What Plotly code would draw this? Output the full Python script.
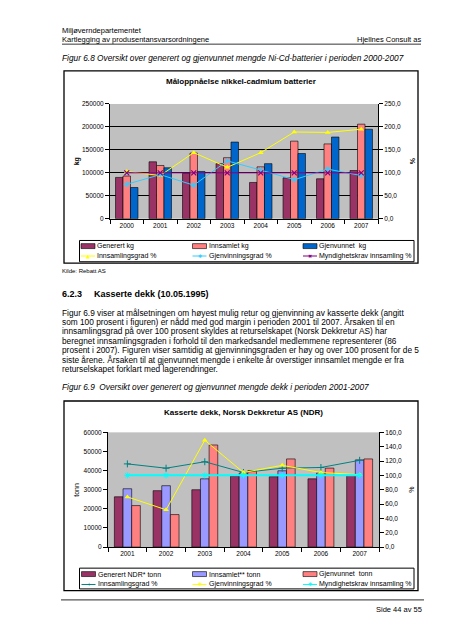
import plotly.graph_objects as go

W, H = 452, 640

# ---------------- data: Figure 6.8 (Ni-Cd batteries) ----------------
years_nicd = ["2000", "2001", "2002", "2003", "2004", "2005", "2006", "2007"]
nicd_generert = [90000, 124000, 99000, 120000, 79000, 89000, 87000, 105000]
nicd_innsamlet = [93000, 116000, 143000, 133000, 113000, 169000, 163000, 206000]
nicd_gjenvunnet = [68000, 111000, 103000, 167000, 120000, 142000, 178000, 195000]
nicd_innsamlingsgrad = [103, 94, 144, 112, 144, 189, 188, 195]
nicd_gjenvinningsgrad = [75, 96, 73, 126, 106, 85, 108, 94]
nicd_krav = [100, 100, 100, 100, 100, 100, 100, 100]

# ---------------- data: Figure 6.9 (tyres) ----------------
years_dekk = ["2001", "2002", "2003", "2004", "2005", "2006", "2007"]
dekk_generert = [26300, 29500, 30000, 37100, 36800, 35700, 37500]
dekk_innsamlet = [30500, 32100, 35700, 38700, 39900, 38800, 45600]
dekk_gjenvunnet = [21700, 17000, 53400, 40000, 46100, 41300, 46100]
dekk_innsamlingsgrad = [116, 110, 119, 104, 110, 111, 121]
dekk_gjenvinningsgrad = [70, 52, 149, 104, 114, 104, 101]
dekk_krav = [100, 100, 100, 100, 100, 100, 100]

# ---------------- colours ----------------
MAROON = "#993366"
SALMON = "#FF8080"
BLUE = "#0066CC"
LAVENDER = "#9999FF"
YELLOW = "#FFFF00"
LIGHTBLUE = "#33CCFF"
PURPLE = "#800080"
TEAL = "#008080"
CYAN = "#00FFFF"
FONT = "Liberation Sans"


def px_x(x):
    return x / W


def px_y(y):
    return 1 - y / H


fig = go.Figure()

bar_line = dict(color="black", width=0.6)

# chart 1 bars
fig.add_trace(go.Bar(x=years_nicd, y=nicd_generert, name="Generert kg",
                     marker=dict(color=MAROON, line=bar_line), xaxis="x", yaxis="y"))
fig.add_trace(go.Bar(x=years_nicd, y=nicd_innsamlet, name="Innsamlet kg",
                     marker=dict(color=SALMON, line=bar_line), xaxis="x", yaxis="y"))
fig.add_trace(go.Bar(x=years_nicd, y=nicd_gjenvunnet, name="Gjenvunnet  kg",
                     marker=dict(color=BLUE, line=bar_line), xaxis="x", yaxis="y"))
# chart 1 lines
fig.add_trace(go.Scatter(x=years_nicd, y=nicd_innsamlingsgrad, name="Innsamlingsgrad %",
                         mode="lines+markers", line=dict(color=YELLOW, width=1),
                         marker=dict(symbol="triangle-up", size=5, color=YELLOW),
                         xaxis="x", yaxis="y2"))
fig.add_trace(go.Scatter(x=years_nicd, y=nicd_gjenvinningsgrad, name="Gjenvinningsgrad %",
                         mode="lines+markers", line=dict(color=LIGHTBLUE, width=1),
                         marker=dict(symbol="asterisk-open", size=5,
                                     line=dict(color=LIGHTBLUE, width=1)),
                         xaxis="x", yaxis="y2"))
fig.add_trace(go.Scatter(x=years_nicd, y=nicd_krav, name="Myndighetskrav innsamling %",
                         mode="lines+markers", line=dict(color=PURPLE, width=1),
                         marker=dict(symbol="x-thin-open", size=5,
                                     line=dict(color="#C0206A", width=1.2)),
                         xaxis="x", yaxis="y2"))

# chart 2 bars
fig.add_trace(go.Bar(x=years_dekk, y=dekk_generert, name="Generert NDR* tonn",
                     marker=dict(color=MAROON, line=bar_line), xaxis="x2", yaxis="y3"))
fig.add_trace(go.Bar(x=years_dekk, y=dekk_innsamlet, name="Innsamlet** tonn",
                     marker=dict(color=LAVENDER, line=bar_line), xaxis="x2", yaxis="y3"))
fig.add_trace(go.Bar(x=years_dekk, y=dekk_gjenvunnet, name="Gjenvunnet  tonn",
                     marker=dict(color=SALMON, line=bar_line), xaxis="x2", yaxis="y3"))
# chart 2 lines
fig.add_trace(go.Scatter(x=years_dekk, y=dekk_innsamlingsgrad, name="Innsamlingsgrad %",
                         mode="lines+markers", line=dict(color=TEAL, width=1),
                         marker=dict(symbol="cross-thin-open", size=5,
                                     line=dict(color=TEAL, width=1)),
                         xaxis="x2", yaxis="y4"))
fig.add_trace(go.Scatter(x=years_dekk, y=dekk_gjenvinningsgrad, name="Gjenvinningsgrad %",
                         mode="lines+markers", line=dict(color=YELLOW, width=1),
                         marker=dict(symbol="triangle-up", size=5, color=YELLOW),
                         xaxis="x2", yaxis="y4"))
fig.add_trace(go.Scatter(x=years_dekk, y=dekk_krav, name="Myndighetskrav innsamling %",
                         mode="lines+markers", line=dict(color=CYAN, width=2),
                         marker=dict(symbol="asterisk-open", size=5,
                                     line=dict(color=CYAN, width=1)),
                         xaxis="x2", yaxis="y4"))

tickfont = dict(family=FONT, size=6.5, color="black")
common_x = dict(type="category", showline=True, linecolor="black", linewidth=1,
                ticks="outside", tickson="boundaries", ticklen=4, tickcolor="black",
                tickfont=tickfont, showgrid=False, zeroline=False, fixedrange=True)
common_y = dict(showline=True, linecolor="black", linewidth=1, ticks="outside",
                ticklen=4, tickcolor="black", tickfont=tickfont, zeroline=False,
                fixedrange=True)

fig.update_layout(
    width=W, height=H, margin=dict(l=0, r=0, t=0, b=0),
    paper_bgcolor="white", plot_bgcolor="#C0C0C0",
    showlegend=False, barmode="group", bargap=0.33, bargroupgap=0,
    separators=", ",
    xaxis=dict(common_x, domain=[px_x(102), px_x(370)], anchor="y"),
    yaxis=dict(common_y, domain=[px_y(209), px_y(93)], anchor="x",
               range=[0, 250000], dtick=50000, tickformat="d",
               showgrid=True, gridcolor="black", gridwidth=1),
    yaxis2=dict(common_y, overlaying="y", side="right", anchor="x",
                range=[0, 250], dtick=50, tickformat=".1f", showgrid=False),
    xaxis2=dict(common_x, domain=[px_x(100), px_x(371)], anchor="y3"),
    yaxis3=dict(common_y, domain=[px_y(541), px_y(425)], anchor="x2",
                range=[0, 60000], dtick=10000, tickformat="d", showgrid=False),
    yaxis4=dict(common_y, overlaying="y3", side="right", anchor="x2",
                range=[0, 160], dtick=20, tickformat=".1f", showgrid=False),
)

annotations = []
shapes = []


def txt(s, x, y, size, xanchor="left", angle=0, family=FONT, color="black"):
    annotations.append(dict(text=s, x=px_x(x), y=px_y(y), xref="paper", yref="paper",
                            xanchor=xanchor, yanchor="middle", showarrow=False,
                            borderpad=0, borderwidth=0, textangle=angle,
                            font=dict(family=family, size=size, color=color)))


def hline(x0, x1, y, width=1, color="black"):
    shapes.append(dict(type="line", xref="paper", yref="paper", x0=px_x(x0), x1=px_x(x1),
                       y0=px_y(y), y1=px_y(y), line=dict(color=color, width=width)))


def rect(x0, y0, x1, y1, fill="rgba(0,0,0,0)", width=1, color="black"):
    shapes.append(dict(type="rect", xref="paper", yref="paper", x0=px_x(x0), x1=px_x(x1),
                       y0=px_y(y1), y1=px_y(y0), fillcolor=fill,
                       line=dict(color=color, width=width), layer="above"))


# ---------------- page header ----------------
txt("Miljøverndepartementet", 54, 19, 7.5)
txt("Kartlegging av produsentansvarsordningene", 54, 27.5, 7.5)
txt("Hjellnes Consult as", 413, 27.5, 7.5, xanchor="right")
hline(54, 413, 32.5, width=0.8)
txt("<i>Figur 6.8 Oversikt over generert og gjenvunnet mengde Ni-Cd-batterier i perioden 2000-2007</i>",
    54, 47, 8.3)

# ---------------- chart 1 frame, titles, legend ----------------
rect(56, 59.5, 410, 254, width=1.3)
txt("<b>Måloppnåelse nikkel-cadmium batterier</b>", 233, 70, 8, xanchor="center")
txt("<b>kg</b>", 69, 151, 7, xanchor="center", angle=-90)
txt("<b>%</b>", 404, 151, 7, xanchor="center", angle=-90)


def legend(box, rows, cols, entries):
    x0, y0, x1, y1 = box
    rect(x0, y0, x1, y1, fill="white", width=1)
    for i, ent in enumerate(entries):
        r, c = divmod(i, 3)
        ly = rows[r]
        lx = cols[c]
        kind, color, label, glyph = ent
        if kind == "bar":
            rect(lx, ly - 2.5, lx + 14, ly + 2.5, fill=color, width=0.6)
        else:
            hline(lx, lx + 14, ly, width=1, color=color)
            txt(glyph, lx + 7, ly, 5, xanchor="center", family="DejaVu Sans", color=color)
        txt(label, lx + 16, ly, 7)


legend((71.5, 231, 406, 252.5), [236.7, 246.7], [73, 184.5, 295], [
    ("bar", MAROON, "Generert kg", None),
    ("bar", SALMON, "Innsamlet kg", None),
    ("bar", BLUE, "Gjenvunnet  kg", None),
    ("line", YELLOW, "Innsamlingsgrad %", "▲"),
    ("line", LIGHTBLUE, "Gjenvinningsgrad %", "✱"),
    ("line", PURPLE, "Myndighetskrav innsamling %", "✖"),
])
txt("Kilde: Rebatt AS", 54, 261.5, 6)

# ---------------- section text ----------------
txt("<b>6.2.3</b>", 54, 285, 9)
txt("<b>Kasserte dekk (10.05.1995)</b>", 86, 285, 9)
paragraph = [
    "Figur 6.9 viser at målsetningen om høyest mulig retur og gjenvinning av kasserte dekk (angitt",
    "som 100 prosent i figuren) er nådd med god margin i perioden 2001 til 2007. Årsaken til en",
    "innsamlingsgrad på over 100 prosent skyldes at returselskapet (Norsk Dekkretur AS) har",
    "beregnet innsamlingsgraden i forhold til den markedsandel medlemmene representerer (86",
    "prosent i 2007). Figuren viser samtidig at gjenvinningsgraden er høy og over 100 prosent for de 5",
    "siste årene. Årsaken til at gjenvunnet mengde i enkelte år overstiger innsamlet mengde er fra",
    "returselskapet forklart med lagerendringer.",
]
for i, line in enumerate(paragraph):
    txt(line, 54, 304 + 9.5 * i, 8.3)
txt("<i>Figur 6.9  Oversikt over generert og gjenvunnet mengde dekk i perioden 2001-2007</i>",
    54, 379.3, 8.3)

# ---------------- chart 2 frame, titles, legend ----------------
rect(56, 393.3, 410, 585, width=1.3)
txt("<b>Kasserte dekk, Norsk Dekkretur AS (NDR)</b>", 235, 405, 8, xanchor="center")
txt("tonn", 69, 483, 7, xanchor="center", angle=-90)
txt("%", 404, 483, 7, xanchor="center", angle=-90)
legend((71.5, 562.3, 406, 583.3), [568.3, 578.8], [73.5, 184.5, 295], [
    ("bar", MAROON, "Generert NDR* tonn", None),
    ("bar", LAVENDER, "Innsamlet** tonn", None),
    ("bar", SALMON, "Gjenvunnet  tonn", None),
    ("line", TEAL, "Innsamlingsgrad %", "+"),
    ("line", YELLOW, "Gjenvinningsgrad %", "✱"),
    ("line", CYAN, "Myndighetskrav innsamling %", "✱"),
])

# ---------------- footer ----------------
hline(53, 416, 594.3, width=1.2, color="#555555")
txt("Side 44 av 55", 414, 604, 7.5, xanchor="right")

fig.update_layout(annotations=annotations, shapes=shapes)
fig.write_html("out.html")
